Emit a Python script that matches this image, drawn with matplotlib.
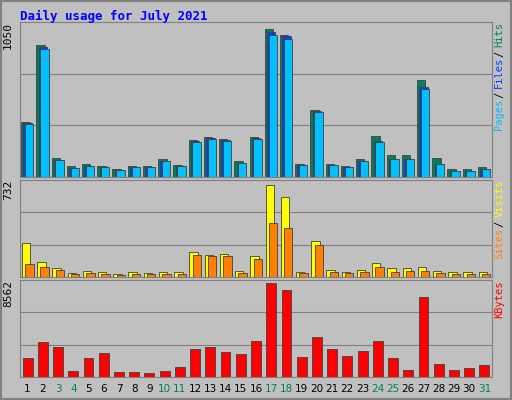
import matplotlib
matplotlib.use("Agg")
import matplotlib.pyplot as plt
from matplotlib.patches import Rectangle
from matplotlib.offsetbox import TextArea, VPacker, AnchoredOffsetbox

days = list(range(1, 32))
weekend = {3, 4, 10, 11, 17, 18, 24, 25, 31}
hits = [385, 924, 133, 77, 91, 77, 56, 77, 77, 126, 84, 259, 280, 266, 112, 280,
        1036, 994, 91, 469, 91, 77, 126, 287, 154, 154, 679, 133, 56, 56, 70]
files = [375, 910, 118, 65, 80, 70, 50, 70, 70, 112, 75, 250, 270, 258, 100, 270,
         1010, 985, 82, 460, 82, 68, 112, 250, 126, 126, 630, 90, 45, 45, 55]
visits = [268, 118, 71, 31, 47, 39, 24, 39, 31, 39, 39, 197, 173, 181, 47, 165,
          716, 622, 39, 283, 55, 39, 55, 110, 71, 71, 79, 47, 39, 39, 39]
sites = [102, 79, 55, 24, 31, 24, 16, 24, 24, 24, 24, 173, 165, 165, 31, 142,
         417, 378, 31, 252, 39, 31, 39, 79, 39, 47, 47, 31, 24, 24, 24]
kbytes = [1694, 3199, 2729, 565, 1694, 2164, 470, 470, 376, 565, 941, 2540, 2729,
          2258, 2070, 3293, 8562, 7903, 1788, 3670, 2540, 1882, 2352, 3293, 1694,
          659, 7245, 1223, 659, 847, 1129]

W, H = 512, 400
fig = plt.figure(figsize=(W / 100, H / 100), dpi=100)
fig.patch.set_facecolor("#c0c0c0")
fig.add_artist(Rectangle((0, 0), 1, 1, transform=fig.transFigure, fill=False,
                         edgecolor="#808080", lw=3))

def ax_px(l, t, r, b):
    return fig.add_axes([l / W, 1 - b / H, (r - l) / W, (b - t) / H])

mono = "DejaVu Sans Mono"
fig.text(20 / W, 1 - 16 / H, "Daily usage for July 2021", color="#0000ff",
         family=mono, weight="bold", fontsize=9, va="center")

def style(ax, ymax, label):
    ax.set_facecolor("#c0c0c0")
    ax.set_xlim(0.5, 31.5)
    ax.set_ylim(0, ymax * 1.03)
    ax.set_yticks([])
    ax.set_xticks([])
    for f in (1 / 3, 2 / 3):
        ax.axhline(ymax * 1.03 * f, color="#808080", lw=0.8, zorder=0)
    for s in ax.spines.values():
        s.set_color("#808080")
    ax.text(-0.025, 1.0, label, transform=ax.transAxes, rotation=90,
            ha="center", va="top", fontsize=8, family=mono)

bw = 0.55
ax1 = ax_px(20, 22, 492, 177)
style(ax1, 1050, "1050")
ax1.bar([d - 0.15 for d in days], hits, bw, color="#00805c", edgecolor="#404040", lw=0.6)
ax1.bar([d + 0.0 for d in days], files, bw, color="#0040ff", edgecolor="#404040", lw=0.6)
ax1.bar([d + 0.1 for d in days], [f * 0.98 for f in files], bw, color="#00c0ff", edgecolor="#404040", lw=0.6)

ax2 = ax_px(20, 180, 492, 277)
style(ax2, 732, "732")
ax2.bar([d - 0.1 for d in days], visits, bw, color="#ffff00", edgecolor="#404040", lw=0.6)
ax2.bar([d + 0.12 for d in days], sites, bw, color="#ff8000", edgecolor="#404040", lw=0.6)

ax3 = ax_px(20, 280, 492, 377)
style(ax3, 8562, "8562")
ax3.bar(days, kbytes, bw + 0.1, color="#ff0000", edgecolor="#404040", lw=0.6)
for d in days:
    ax3.text(d, -0.12, str(d), transform=ax3.get_xaxis_transform(), ha="center",
             va="center", fontsize=7.5, color="#00805c" if d in weekend else "black")

def side(ax, parts):
    boxes = [TextArea(t, textprops=dict(color=c, rotation=90, family=mono,
                                        fontsize=7.5)) for t, c in parts]
    pk = VPacker(children=boxes[::-1], sep=0, align="center")
    ab = AnchoredOffsetbox(loc="upper left", child=pk, frameon=False,
                           bbox_to_anchor=(1.005, 1.0), bbox_transform=ax.transAxes, pad=0, borderpad=0)
    ax.add_artist(ab)

side(ax1, [("Pages", "#00c0ff"), ("/", "#000000"), ("Files", "#0040ff"),
           ("/", "#000000"), ("Hits", "#00805c")])
side(ax2, [("Sites", "#ff8000"), ("/", "#000000"), ("Visits", "#ffff00")])
side(ax3, [("KBytes", "#ff0000")])

fig.savefig("out.png", dpi=100, facecolor=fig.get_facecolor())
